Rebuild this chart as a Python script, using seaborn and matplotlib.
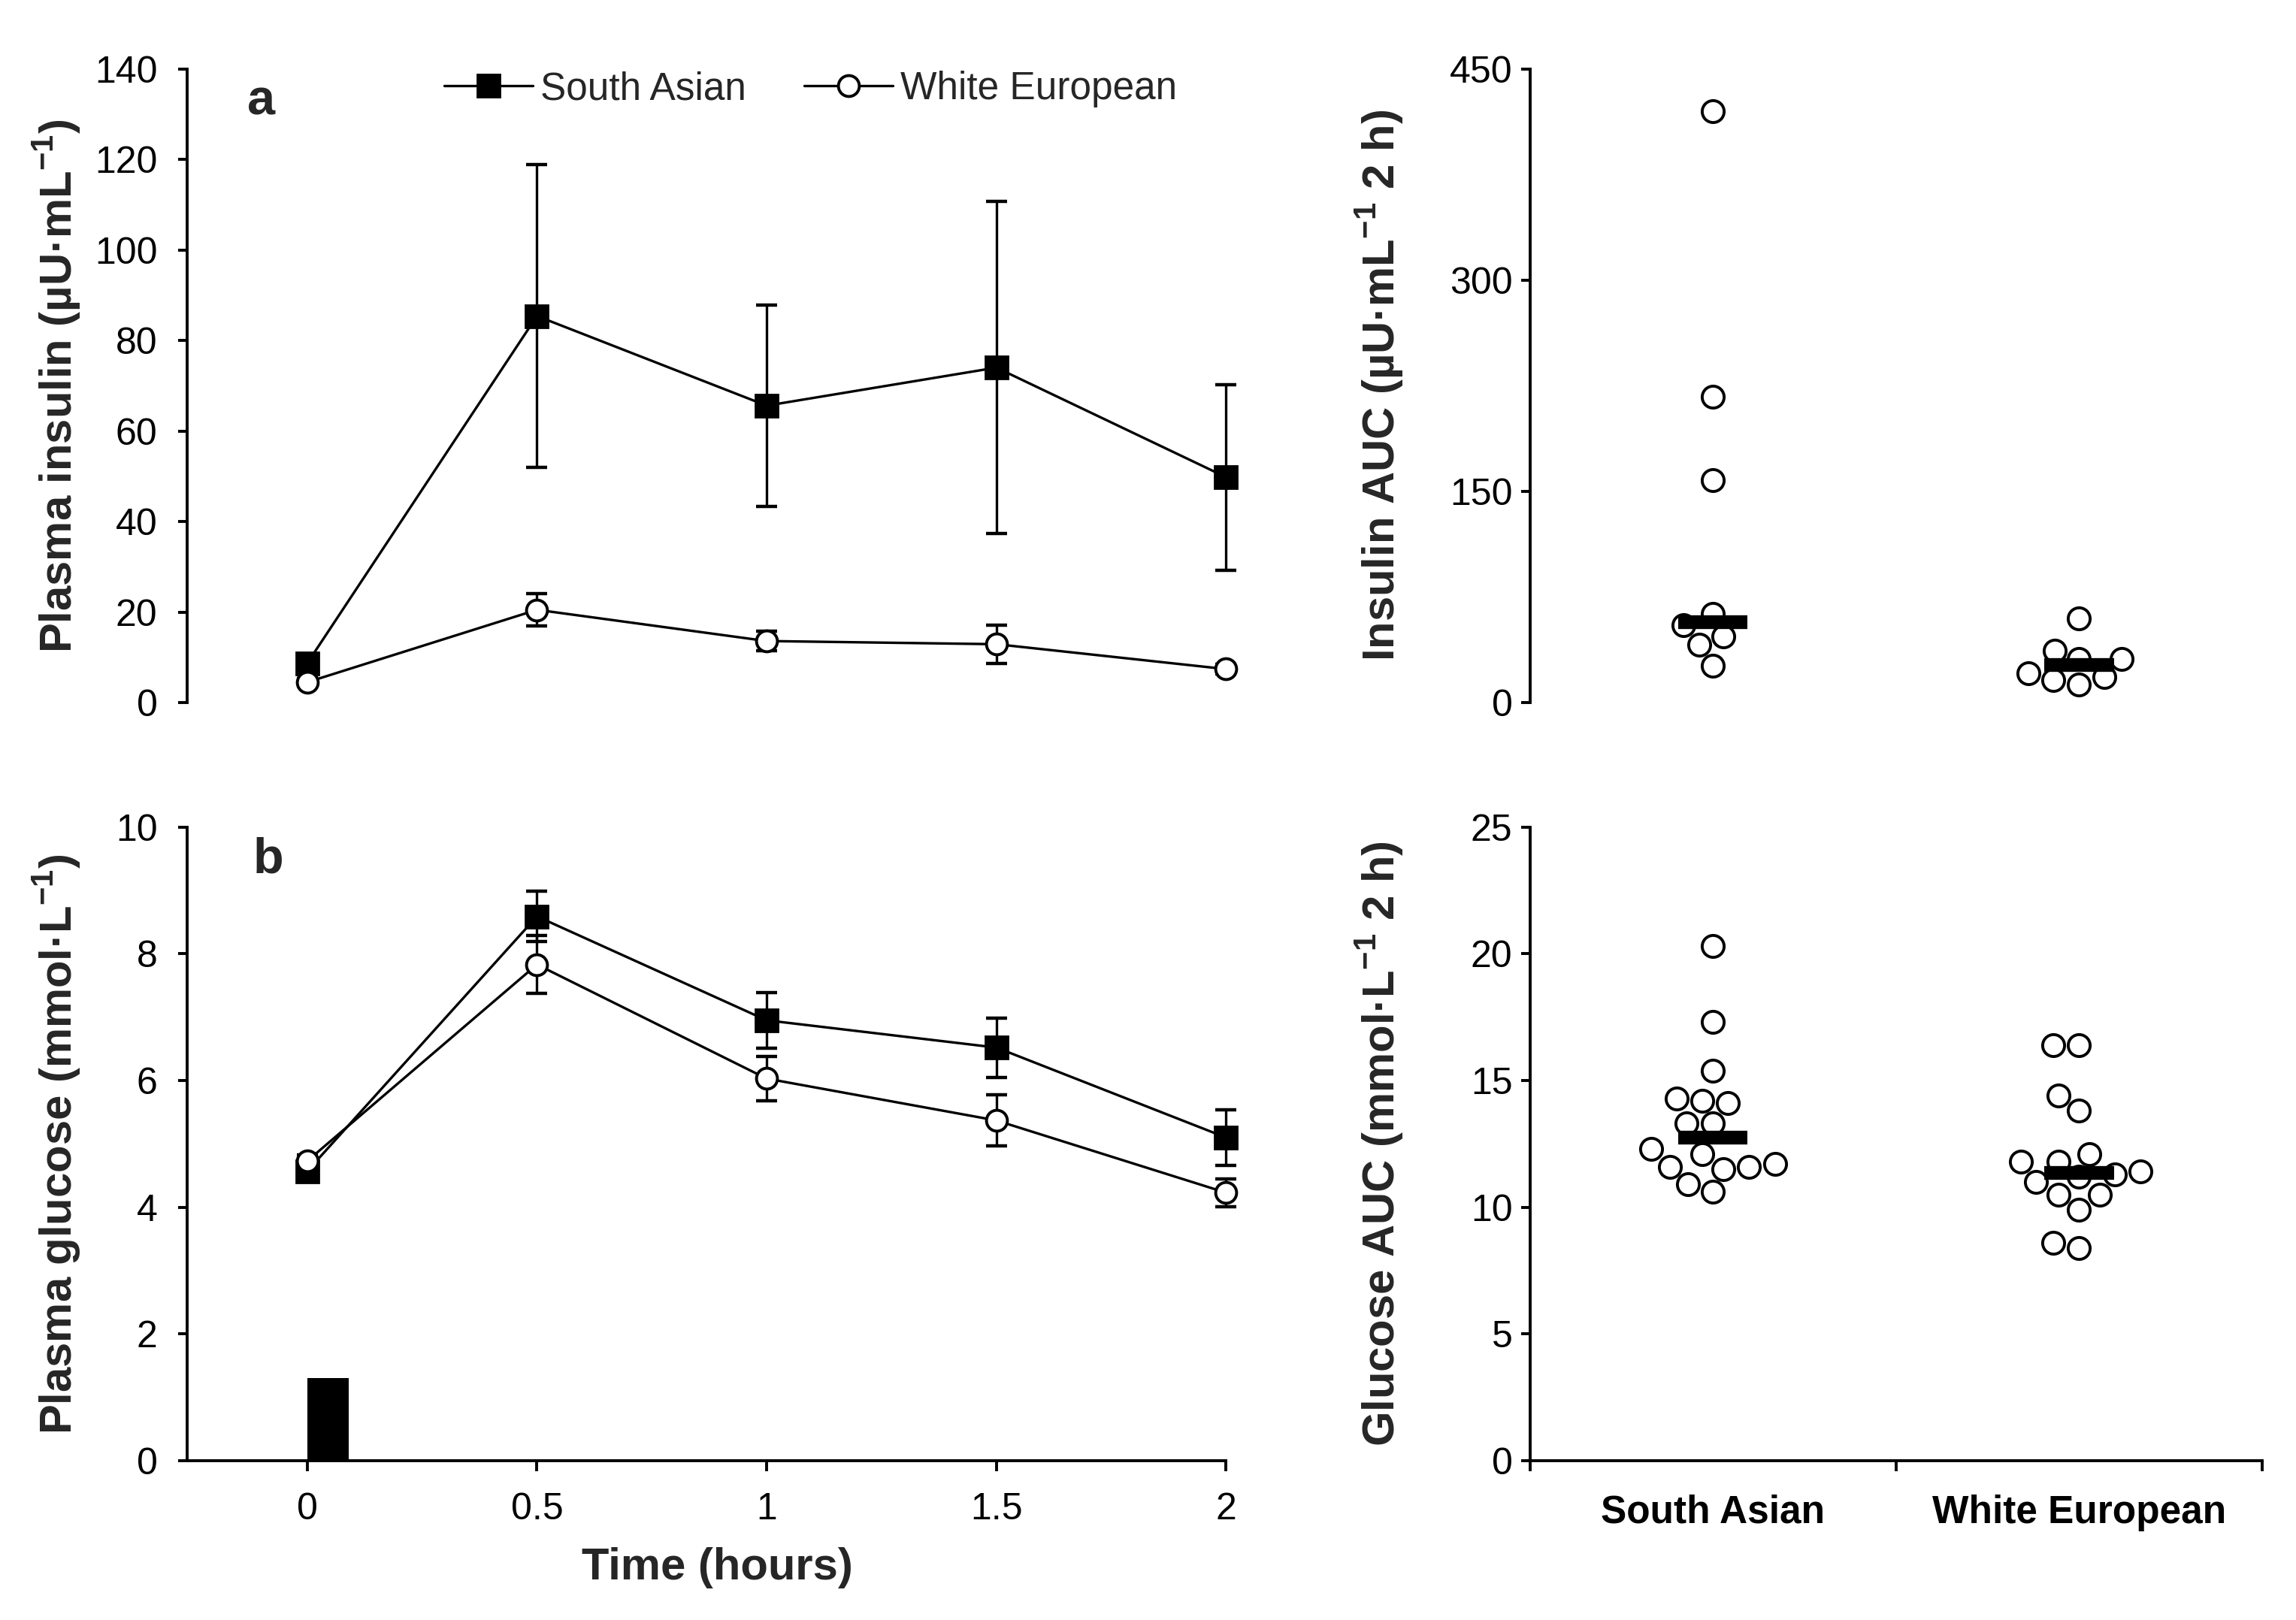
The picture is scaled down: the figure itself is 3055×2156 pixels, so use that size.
import numpy as np
import pandas as pd
import matplotlib
matplotlib.use("Agg")
import matplotlib.pyplot as plt
import seaborn as sns

# ---------------- data ----------------
time_h = [0, 0.5, 1, 1.5, 2]
groups = ["South Asian", "White European"]

insulin_sa = [8.7, 85.4, 65.6, 74.0, 49.8]
insulin_sa_err = [1.5, 33.5, 22.3, 36.7, 20.5]
insulin_we = [4.5, 20.5, 13.6, 12.9, 7.4]
insulin_we_err = [0.8, 3.5, 2.2, 4.2, 1.0]

glucose_sa = [4.57, 8.59, 6.95, 6.52, 5.10]
glucose_sa_err = [0.10, 0.40, 0.44, 0.47, 0.44]
glucose_we = [4.73, 7.83, 6.03, 5.37, 4.23]
glucose_we_err = [0.10, 0.46, 0.35, 0.40, 0.22]

meal_time = [0.0]
meal_height = [1.3]

insulin_auc_sa = [420, 217, 158, 63, 55, 47, 41, 26]
insulin_auc_we = [60, 37, 31, 31, 21, 18, 16, 13]
insulin_auc_median = [57, 26.5]

glucose_auc_sa = [20.3, 17.3, 15.4, 14.2, 14.1, 14.3, 13.3, 13.3,
                  12.1, 12.3, 11.6, 11.6, 11.5, 11.7, 10.6, 10.9]
glucose_auc_we = [16.4, 16.4, 14.4, 13.8, 12.1, 11.8, 11.8, 11.4,
                  11.0, 11.2, 11.3, 10.5, 10.5, 9.9, 8.4, 8.6]
glucose_auc_median = [12.75, 11.35]

# ---------------- style ----------------
sns.set_theme(style="ticks")
plt.rcParams["font.family"] = ["Liberation Sans", "DejaVu Sans"]
plt.rcParams["mathtext.fontset"] = "custom"
plt.rcParams["mathtext.rm"] = "Liberation Sans"
plt.rcParams["mathtext.bf"] = "Liberation Sans:bold"
plt.rcParams["axes.linewidth"] = 1.4
plt.rcParams["axes.edgecolor"] = "black"

TICK_FS = 18
LABEL_FS = 21.5
PANEL_FS = 24

fig = plt.figure(figsize=(15.275, 10.78), dpi=200)
L_left, L_w = 0.0816, 0.4524
R_left, R_w = 0.6663, 0.3189
top_b, bot_b, h = 0.5663, 0.0983, 0.3912

ax_a = fig.add_axes([L_left, top_b, L_w, h])
ax_b = fig.add_axes([L_left, bot_b, L_w, h])
ax_c = fig.add_axes([R_left, top_b, R_w, h])
ax_d = fig.add_axes([R_left, bot_b, R_w, h])

line_kw = dict(color="black", linewidth=1.2, clip_on=False, zorder=3)
sq_kw = dict(marker="s", markersize=11, markerfacecolor="black",
             markeredgecolor="black", markeredgewidth=1.0)
ci_kw = dict(marker="o", markersize=10, markerfacecolor="white",
             markeredgecolor="black", markeredgewidth=1.4)
err_kw = dict(fmt="none", ecolor="black", elinewidth=1.2, capsize=5,
              capthick=1.6, clip_on=False, zorder=2)


def time_panel(ax, sa, sa_err, we, we_err, with_legend):
    ax.errorbar(time_h, sa, yerr=sa_err, **err_kw)
    ax.errorbar(time_h, we, yerr=we_err, **err_kw)
    sns.lineplot(x=time_h, y=sa, ax=ax, label=groups[0] if with_legend else None,
                 **line_kw, **sq_kw)
    sns.lineplot(x=time_h, y=we, ax=ax, label=groups[1] if with_legend else None,
                 **line_kw, **ci_kw)
    ax.set_xlim(-0.261, 2.0)
    sns.despine(ax=ax)
    ax.tick_params(axis="y", direction="out", length=4.3, width=1.4,
                   pad=10, labelsize=TICK_FS, colors="black")
    ax.tick_params(axis="x", direction="out", length=5, width=1.4,
                   pad=10, labelsize=TICK_FS, colors="black")


# ---- panel a: insulin ----
time_panel(ax_a, insulin_sa, insulin_sa_err, insulin_we, insulin_we_err, True)
ax_a.set_ylim(0, 140)
ax_a.set_yticks(np.arange(0, 141, 20))
ax_a.spines["bottom"].set_visible(False)
ax_a.tick_params(axis="x", which="both", bottom=False, labelbottom=False)
ax_a.set_ylabel("Plasma insulin (µU·mL$^{\\mathbf{-1}}$)", fontsize=LABEL_FS,
                fontweight="bold")
ax_a.yaxis.set_label_coords(-0.101, 0.5)
ax_a.text(0.058, 0.948, "a", transform=ax_a.transAxes, fontsize=PANEL_FS,
          fontweight="bold", ha="left", va="center")
ax_a.legend(loc="center", bbox_to_anchor=(0.60, 0.968), ncol=2, frameon=False,
            fontsize=18.5, handlelength=2.3, handletextpad=0.2,
            columnspacing=1.5, borderaxespad=0)

# ---- panel b: glucose ----
time_panel(ax_b, glucose_sa, glucose_sa_err, glucose_we, glucose_we_err, False)
ax_b.bar(meal_time, meal_height, width=0.09, align="edge", color="black",
         edgecolor="black", linewidth=0, zorder=2)
ax_b.set_ylim(0, 10)
ax_b.set_yticks(np.arange(0, 11, 2))
ax_b.set_xticks(time_h)
ax_b.set_xticklabels(["0", "0.5", "1", "1.5", "2"])
ax_b.set_ylabel("Plasma glucose (mmol·L$^{\\mathbf{-1}}$)", fontsize=LABEL_FS,
                fontweight="bold")
ax_b.yaxis.set_label_coords(-0.101, 0.5)
ax_b.set_xlabel("Time (hours)", fontsize=LABEL_FS, fontweight="bold")
ax_b.xaxis.set_label_coords(0.51, -0.136)
ax_b.text(0.063, 0.948, "b", transform=ax_b.transAxes, fontsize=PANEL_FS,
          fontweight="bold", ha="left", va="center")


# ---- AUC panels ----
def auc_panel(ax, sa_vals, we_vals, medians):
    df = pd.DataFrame({
        "group": [groups[0]] * len(sa_vals) + [groups[1]] * len(we_vals),
        "auc": list(sa_vals) + list(we_vals),
    })
    sns.swarmplot(data=df, x="group", y="auc", order=groups, ax=ax,
                  color="white", edgecolor="black", linewidth=1.4, size=10.5,
                  zorder=3, clip_on=False)
    pos = np.arange(len(groups))
    ax.hlines(medians, pos - 0.095, pos + 0.095, colors="black",
              linewidth=6.6, zorder=5)
    ax.set_xlim(-0.5, 1.5)
    sns.despine(ax=ax)
    ax.tick_params(axis="y", direction="out", length=4.3, width=1.4,
                   pad=4, labelsize=TICK_FS, colors="black")
    ax.set_xlabel("")


auc_panel(ax_c, insulin_auc_sa, insulin_auc_we, insulin_auc_median)
ax_c.set_ylim(0, 450)
ax_c.set_yticks([0, 150, 300, 450])
ax_c.spines["bottom"].set_visible(False)
ax_c.tick_params(axis="x", which="both", bottom=False, labelbottom=False)
ax_c.set_ylabel("Insulin AUC (µU·mL$^{\\mathbf{-1}}$ 2 h)", fontsize=LABEL_FS,
                fontweight="bold")
ax_c.yaxis.set_label_coords(-0.170, 0.5)

auc_panel(ax_d, glucose_auc_sa, glucose_auc_we, glucose_auc_median)
ax_d.set_ylim(0, 25)
ax_d.set_yticks(np.arange(0, 26, 5))
ax_d.set_xticks([0, 1])
ax_d.set_xticklabels(groups, fontweight="bold", fontsize=18.5)
ax_d.set_xticks([-0.5, 0.5, 1.5], minor=True)
ax_d.tick_params(axis="x", which="major", length=0, pad=16, colors="black")
ax_d.tick_params(axis="x", which="minor", direction="out", length=5,
                 width=1.4, colors="black")
ax_d.set_ylabel("Glucose AUC (mmol·L$^{\\mathbf{-1}}$ 2 h)", fontsize=LABEL_FS,
                fontweight="bold")
ax_d.yaxis.set_label_coords(-0.170, 0.5)

fig.savefig("out.png", dpi=200, facecolor="white")
